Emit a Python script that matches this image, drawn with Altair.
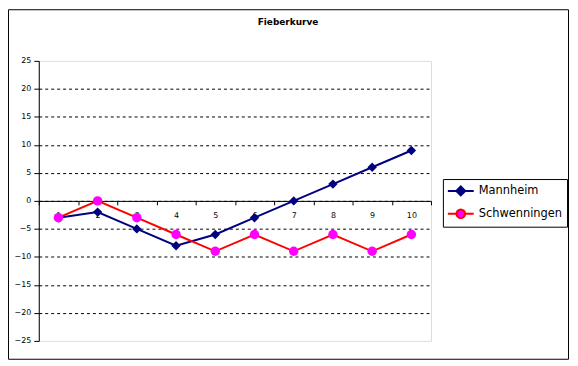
import altair as alt
import pandas as pd

days = list(range(1, 11))
mannheim = [-3, -2, -5, -8, -6, -3, 0, 3, 6, 9]
schwenningen = [-3, 0, -3, -6, -9, -6, -9, -6, -9, -6]
series_names = ["Mannheim", "Schwenningen"]
line_colors = ["#000080", "#FF0000"]
marker_colors = ["#000080", "#FF00FF"]
marker_shapes = ["diamond", "circle"]
y_ticks = list(range(-25, 30, 5))
title_text = "Fieberkurve"

rows = []
for name, vals in zip(series_names, [mannheim, schwenningen]):
    for d, v in zip(days, vals):
        rows.append({"Tag": d, "Wert": v, "Serie": name})
df = pd.DataFrame(rows)

W, H = 395, 282
FONT = "DejaVu Sans"

x_enc = alt.X(
    "Tag:O",
    scale=alt.Scale(type="band", paddingInner=0, paddingOuter=0),
    axis=alt.Axis(
        title=None, orient="bottom", offset=-H / 2, labelAngle=0, tickBand="extent",
        domainColor="black", tickColor="black", tickSize=4, labelFont=FONT,
        labelFontSize=8, labelColor="black", labelPadding=7, grid=False,
    ),
)
y_enc = alt.Y(
    "Wert:Q",
    scale=alt.Scale(domain=[-25, 25], nice=False, zero=False),
    axis=alt.Axis(
        title=None, values=y_ticks, grid=True, gridColor="black", gridDash=[3, 3],
        gridOpacity={"condition": {"test": "abs(datum.value) >= 25", "value": 0}, "value": 1},
        domainColor="black", tickColor="black", tickSize=5, labelFont=FONT,
        labelFontSize=8, labelColor="black", labelPadding=3,
    ),
)

# legend symbols: a short line with the marker in its middle (unit = 7 px)
diamond_path = "M-1.86,0H1.86M0,-0.64L0.64,0L0,0.64L-0.64,0Z"
circle_path = "M-1.86,0H-0.62M0.62,0H1.86M-0.62,0A0.62,0.62,0,1,1,0.62,0A0.62,0.62,0,1,1,-0.62,0Z"
first = series_names[0]

legend_a = alt.Legend(
    title=None, orient="none", legendX=407, legendY=119, fillColor="white",
    strokeColor="black", padding=4, rowPadding=5, symbolSize=196,
    symbolOffset=6, symbolStrokeWidth=2, labelFont=FONT, labelFontSize=11.5,
    labelColor="black", labelOffset=10,
    symbolType={"expr": f"datum.value === '{first}' ? '{diamond_path}' : '{circle_path}'"},
    symbolFillColor={"expr": f"datum.value === '{first}' ? '{marker_colors[0]}' : '{marker_colors[1]}'"},
)

lines = alt.Chart(df).mark_line(strokeWidth=2).encode(
    x=x_enc, y=y_enc,
    color=alt.Color("Serie:N", scale=alt.Scale(domain=series_names, range=line_colors), legend=legend_a),
)
point_layers = []
for name, shp in zip(series_names, marker_shapes):
    point_layers.append(
        alt.Chart(df).transform_filter(alt.datum.Serie == name)
        .mark_point(filled=True, size=90, opacity=1, shape=shp)
        .encode(
            x=x_enc, y=y_enc,
            fill=alt.Fill("Serie:N", scale=alt.Scale(domain=series_names, range=marker_colors), legend=None),
        )
    )
border = alt.Chart(alt.InlineData(values=[{"b": 1}])).mark_rect(
    fillOpacity=0, stroke="black", strokeWidth=1
).encode(x=alt.value(-30.5), x2=alt.value(533.5), y=alt.value(-51.5), y2=alt.value(300.5))

chart = alt.layer(lines, *point_layers, border).properties(
    width=W, height=H,
    title=alt.TitleParams(title_text, font=FONT, fontSize=9, fontWeight="bold", color="black",
                          anchor="middle", dx=53.5, offset=0, dy=18),
    autosize=alt.AutoSizeParams(type="none"),
    padding={"left": 31, "top": 52, "right": 140, "bottom": 20},
).configure_view(fill="#FFFF99", strokeWidth=0).configure(background="white")

chart.save("out.html", embed_options={"renderer": "svg", "actions": False})
